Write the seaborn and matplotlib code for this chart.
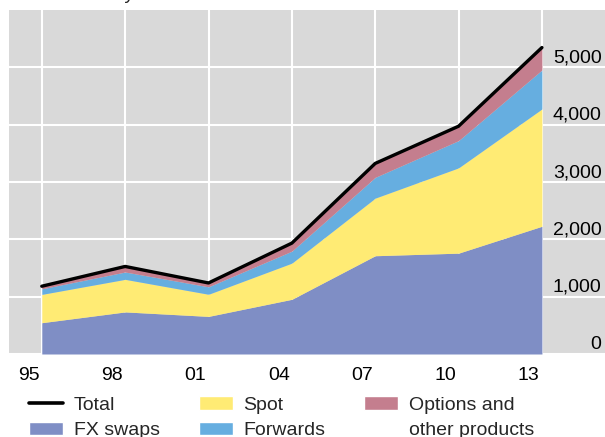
import matplotlib
matplotlib.use("Agg")
import matplotlib.pyplot as plt
from matplotlib.patches import Patch
from matplotlib.lines import Line2D
from matplotlib.transforms import ScaledTranslation
import seaborn as sns
import pandas as pd

years = [1995, 1998, 2001, 2004, 2007, 2010, 2013]
year_labels = ["95", "98", "01", "04", "07", "10", "13"]
fx_swaps = [546, 734, 656, 954, 1714, 1759, 2228]
spot = [494, 568, 386, 631, 1005, 1488, 2046]
forwards = [97, 128, 130, 209, 362, 475, 680]
options_other = [45, 97, 67, 140, 243, 250, 391]
total = [1182, 1527, 1239, 1934, 3324, 3973, 5345]
y_ticks = [0, 1000, 2000, 3000, 4000, 5000]
y_tick_labels = ["0", "1,000", "2,000", "3,000", "4,000", "5,000"]

colors = {
    "FX swaps": "#7f8ec5",
    "Spot": "#ffeb74",
    "Forwards": "#66aee0",
    "Options": "#c47e8e",
}
bg = "#d9d9d9"

sns.set_style("white")
plt.rcParams["font.family"] = ["Liberation Sans", "DejaVu Sans"]

fig = plt.figure(figsize=(6.05, 4.37), dpi=100)
ax = fig.add_axes([9 / 605, 1 - 354 / 437, 1 - 9 / 605, (354 - 10) / 437])
ax.set_facecolor(bg)
for s in ax.spines.values():
    s.set_visible(False)

df = pd.DataFrame({"year": years, "total": total})

ax.stackplot(years, fx_swaps, spot, forwards, options_other,
             colors=[colors["FX swaps"], colors["Spot"], colors["Forwards"], colors["Options"]],
             linewidth=0, zorder=2)
sns.lineplot(data=df, x="year", y="total", ax=ax, color="black", linewidth=2.4,
             zorder=3, legend=False)

ax.set_xlim(1993.82, 2015.27)
ax.set_ylim(0, 6000)

ax.set_xticks(years)
ax.set_xticklabels([])
ax.set_xticks([y - 0.47 for y in years], minor=True)
ax.set_xticklabels(year_labels, minor=True)
ax.tick_params(axis="x", which="both", length=0)
ax.tick_params(axis="x", which="minor", labelsize=14, pad=9, colors="black")

ax.yaxis.tick_right()
ax.set_yticks(y_ticks)
ax.set_yticklabels(y_tick_labels)
ax.tick_params(axis="y", length=0, labelsize=14, pad=-2.5, colors="black")
off = ScaledTranslation(0, 5 / 100, fig.dpi_scale_trans)
for lab in ax.get_yticklabels():
    lab.set_horizontalalignment("right")
    lab.set_verticalalignment("baseline")
    lab.set_transform(lab.get_transform() + off)

ax.grid(True, which="major", color="white", linewidth=1.5, zorder=1)
ax.set_axisbelow(True)
ax.set_xlabel("")
ax.set_ylabel("")

fig.text(20 / 605, 1 + 1.5 / 437, "USD bn daily", fontsize=14, va="baseline", ha="left")

handles = [
    Line2D([0], [0], color="black", linewidth=2.6),
    Patch(facecolor=colors["FX swaps"]),
    Patch(facecolor=colors["Spot"]),
    Patch(facecolor=colors["Forwards"]),
    Patch(facecolor=colors["Options"]),
    Patch(facecolor="none", edgecolor="none"),
]
labels = ["Total", "FX swaps", "Spot", "Forwards", "Options and", "other products"]
fig.legend(handles, labels, ncol=3, loc="upper left",
           bbox_to_anchor=(29 / 605, 1 - 396 / 437), frameon=False,
           fontsize=14, handlelength=1.75, handleheight=0.7, handletextpad=0.55,
           columnspacing=2.0, labelspacing=0.42, borderpad=0, borderaxespad=0)

fig.savefig("out.png", dpi=100)
